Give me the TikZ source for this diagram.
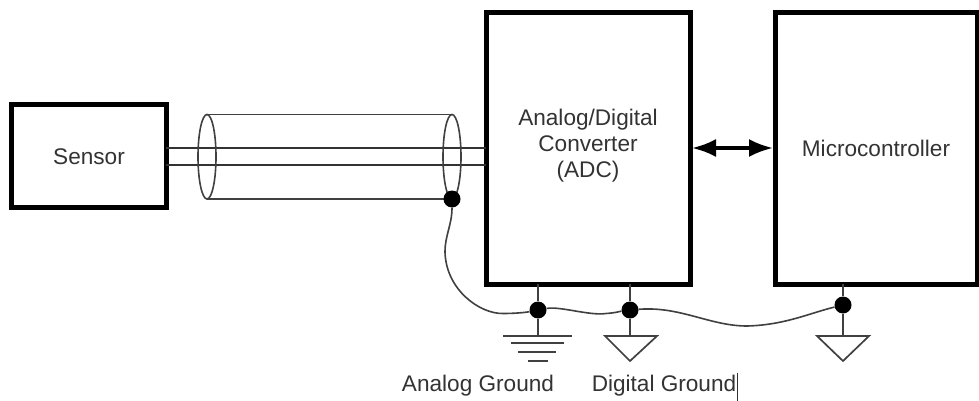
\documentclass[tikz,border=0pt]{standalone}
\usepackage{fontspec}
\usetikzlibrary{arrows.meta}
\setmainfont{Liberation Sans}
\begin{document}
\begin{tikzpicture}[x=1pt,y=-1pt,
  blockbox/.style={draw=black,line width=5pt,outer sep=0pt,inner sep=0pt,anchor=north west},
  wire/.style={draw=black!80,line width=1.7pt},
  thinwire/.style={draw=black!75,line width=1.6pt},
  junction/.style={circle,fill=black,inner sep=0pt,minimum size=17pt},
  label/.style={font=\fontsize{22.6}{26}\selectfont,text=black!80,align=center},
  tri/.style={draw=black!75,line width=1.7pt,line join=miter}]
\useasboundingbox (0,0) rectangle (979,401);
\path[fill=white] (0,0) rectangle (979,401);
% blocks
\node[blockbox,minimum width=155pt,minimum height=102pt] (sensor) at (11,105) {};
\node[label] at (89,157) {Sensor};
\node[blockbox,minimum width=204pt,minimum height=272pt] (adc) at (486,12.5) {};
\node[label] at (588,146) {Analog/Digital\\Converter\\(ADC)};
\node[blockbox,minimum width=202pt,minimum height=272pt] (mcu) at (775,12.5) {};
\node[label] at (876,148) {Microcontroller};
% cable
\coordinate (w1l) at (166,148); \coordinate (w1r) at (486,148);
\coordinate (w2l) at (166,165); \coordinate (w2r) at (486,165);
\draw[wire] (w1l) -- (w1r);
\draw[wire] (w2l) -- (w2r);
\coordinate (ctl) at (207,114.5); \coordinate (ctr) at (452,114.5);
\coordinate (cbl) at (207,199); \coordinate (cbr) at (452,199);
\draw[thinwire] (ctl) -- (ctr);
\draw[thinwire] (cbl) -- (cbr);
\draw[thinwire] (207,156.75) ellipse [x radius=9,y radius=42.25];
\draw[thinwire] (452,156.75) ellipse [x radius=9,y radius=42.25];
% arrow
\coordinate (aa) at (adc.east |- 0,148);
\coordinate (ab) at (mcu.west |- 0,148);
\draw[line width=3.5pt,shorten >=2pt,shorten <=2pt,{Latex[length=24pt,width=18pt]}-{Latex[length=24pt,width=18pt]}] (aa) -- (ab);
% junctions
\node[junction] (js) at (452,199) {};
\node[junction] (ja) at (538,310) {};
\node[junction] (jd) at (630,310) {};
\node[junction] (jm) at (843,305) {};
% shield ground curve
\draw[thinwire] (js) .. controls (452,225) and (445,235) .. (445,252)
  .. controls (446,290) and (480,314) .. (503,313.5) .. controls (518,313.5) and (528,312) .. (ja);
\draw[thinwire] (ja) .. controls (560,306) and (590,316) .. (606,313.5) .. controls (615,313) and (622,311) .. (jd);
\draw[thinwire] (jd) .. controls (680,306) and (710,326) .. (747,326) .. controls (785,325) and (810,313) .. (jm);
% verticals
\coordinate (ag) at (538,336); \coordinate (dg) at (630,336); \coordinate (mg) at (843,336);
\draw[thinwire] (538,284) -- (ja) -- (ag);
\draw[thinwire] (630,284) -- (jd) -- (dg);
\draw[thinwire] (843,284) -- (jm) -- (mg);
% analog ground
\draw[thinwire] (503,336) -- (572,336);
\draw[thinwire] (511,343) -- (564,343);
\draw[thinwire] (518,352) -- (556,352);
\draw[thinwire] (528,361) -- (548,361);
% digital grounds
\draw[tri] (605,336) -- (657,336) -- (630,361) -- cycle;
\draw[tri] (817,336) -- (869,336) -- (843,361) -- cycle;
% labels
\node[label] (la) at (478,386) {Analog Ground};
\node[label] (ld) at (664,386) {Digital Ground};
\coordinate (c1) at (737,373); \coordinate (c2) at (737,401);
\draw[black!80,line width=1pt] (c1) -- (c2);
\end{tikzpicture}
\end{document}
